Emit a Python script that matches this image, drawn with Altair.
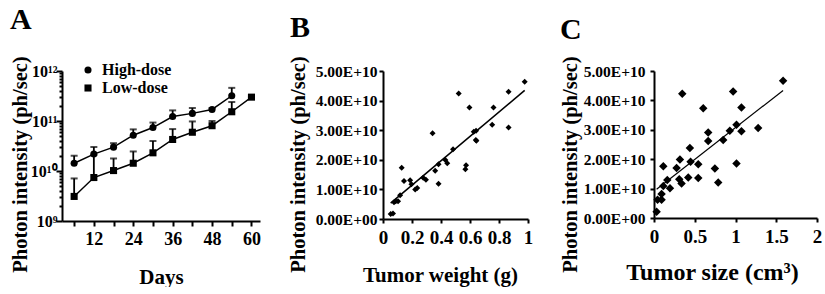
import altair as alt
import pandas as pd

FONT = "Liberation Serif"

# ---------------- Panel A data ----------------
days_high = [6, 12, 18, 24, 30, 36, 42, 48, 54]
high_mean = [1.43e10, 2.18e10, 3.0e10, 5.2e10, 7.4e10, 1.23e11, 1.42e11, 1.70e11, 3.2e11]
high_upper = [2.02e10, 3.02e10, 3.6e10, 6.8e10, 9.3e10, 1.63e11, 1.82e11, 1.82e11, 4.6e11]

days_low = [6, 12, 18, 24, 30, 36, 42, 48, 54, 60]
low_mean = [3.1e9, 7.4e9, 1.02e10, 1.43e10, 2.31e10, 4.27e10, 5.96e10, 8.05e10, 1.53e11, 3.0e11]
low_upper = [7.1e9, 2.1e10, 1.78e10, 2.46e10, 3.98e10, 6.9e10, 9.8e10, 1.0e11, 2.4e11, 3.0e11]

day_ticks = [6, 12, 18, 24, 30, 36, 42, 48, 54, 60]
log_ticks = [m * 10.0 ** e for e in (9, 10, 11) for m in range(1, 10)] + [1e12]

# ---------------- Panel B data ----------------
weight_g = [0.053, 0.069, 0.076, 0.088, 0.104, 0.118, 0.129, 0.145, 0.187, 0.196,
            0.222, 0.236, 0.277, 0.296, 0.342, 0.360, 0.383, 0.383, 0.430, 0.443,
            0.483, 0.522, 0.573, 0.568, 0.596, 0.626, 0.642, 0.640, 0.644, 0.753,
            0.762, 0.866, 0.866, 0.977]
photon_b = [0.17e10, 0.19e10, 0.57e10, 0.60e10, 0.60e10, 0.80e10, 1.73e10, 1.28e10, 1.31e10, 1.17e10,
            1.00e10, 1.05e10, 1.39e10, 1.33e10, 2.90e10, 1.63e10, 1.85e10, 1.19e10, 1.99e10, 1.88e10,
            2.36e10, 4.24e10, 1.82e10, 1.68e10, 3.77e10, 2.95e10, 2.98e10, 2.67e10, 2.64e10, 3.18e10,
            3.77e10, 4.30e10, 3.09e10, 4.64e10]

# ---------------- Panel C data ----------------
size_cm3 = [0.032, 0.044, 0.093, 0.093, 0.114, 0.114, 0.163, 0.196, 0.277, 0.318,
            0.310, 0.338, 0.347, 0.420, 0.440, 0.449, 0.543, 0.543, 0.604, 0.665,
            0.665, 0.747, 0.788, 0.849, 0.930, 0.971, 1.012, 1.012, 1.073, 1.073,
            1.278, 1.584]
photon_c = [0.21e10, 0.62e10, 0.82e10, 0.62e10, 1.09e10, 1.76e10, 1.29e10, 1.01e10, 1.70e10, 1.99e10,
            1.32e10, 1.17e10, 4.23e10, 1.38e10, 2.38e10, 1.91e10, 1.83e10, 1.36e10, 3.73e10, 2.91e10,
            2.62e10, 1.68e10, 1.21e10, 2.65e10, 2.97e10, 4.30e10, 3.17e10, 1.85e10, 3.76e10, 2.95e10,
            3.06e10, 4.67e10]

e_ticks = [0, 1e10, 2e10, 3e10, 4e10, 5e10]
e_label = "datum.value == 0 ? '0.00E+00' : format(datum.value / 1e10, '.2f') + 'E+10'"

YTITLE = "Photon intensity (ph/sec)"
YT_SIZE = 20.5
YT_POS = 93
common = dict(labelFont=FONT, labelFontWeight="bold", labelColor="black",
              titleFont=FONT, titleFontWeight="bold", titleColor="black",
              domainColor="black", domainWidth=2, tickColor="black", tickWidth=2,
              grid=False, labelOverlap=False)

# ---------------- Panel A ----------------
df_a = pd.DataFrame(
    [{"series": "High-dose", "day": d, "val": v, "upper": u}
     for d, v, u in zip(days_high, high_mean, high_upper)] +
    [{"series": "Low-dose", "day": d, "val": v, "upper": u}
     for d, v, u in zip(days_low, low_mean, low_upper)]
)

decade_test = "datum.value == 1e9 || datum.value == 1e10 || datum.value == 1e11 || datum.value == 1e12"
y_label_expr = ("datum.value == 1e9 ? '10\u2079' : datum.value == 1e10 ? '10\u00b9\u2070' : "
                "datum.value == 1e11 ? '10\u00b9\u00b9' : datum.value == 1e12 ? '10\u00b9\u00b2' : ''")

y_scale_a = alt.Scale(type="log", domain=[1e9, 1e12], nice=False)
y_axis_a = alt.Axis(values=log_ticks, labelExpr=y_label_expr,
                    tickSize={"condition": {"test": decade_test, "value": 6}, "value": 3},
                    labelFontSize=16, labelPadding=-1,
                    title=YTITLE, titleFontSize=YT_SIZE, titleBaseline="middle",
                    titleX=-42, titleY=YT_POS, **common)
x_a = alt.X("day:Q", scale=alt.Scale(domain=[2.3, 62.6], nice=False, zero=False),
            axis=alt.Axis(values=day_ticks,
                          labelExpr="datum.value % 12 == 0 ? datum.label : ''",
                          labelFontSize=18, tickSize=5, labelPadding=4, labelFlush=False,
                          title="Days", titleFontSize=21, titlePadding=18, **common))

base_a = alt.Chart(df_a)
lines_a = base_a.mark_line(color="black", strokeWidth=1.5).encode(
    x=x_a, y=alt.Y("val:Q", scale=y_scale_a, axis=y_axis_a), detail="series:N")
rules_a = base_a.mark_rule(color="black", strokeWidth=1.8).encode(
    x=x_a, y=alt.Y("val:Q", scale=y_scale_a, axis=y_axis_a), y2="upper:Q")
caps_a = base_a.mark_tick(color="black", orient="horizontal", size=7, thickness=2).encode(
    x=x_a, y=alt.Y("upper:Q", scale=y_scale_a, axis=y_axis_a))
pts_a = base_a.mark_point(filled=True, color="black", size=50, opacity=1).encode(
    x=x_a, y=alt.Y("val:Q", scale=y_scale_a, axis=y_axis_a),
    shape=alt.Shape("series:N",
                    scale=alt.Scale(domain=["High-dose", "Low-dose"], range=["circle", "square"]),
                    legend=alt.Legend(orient="none", legendX=18, legendY=-9, title=None,
                                      labelFont=FONT, labelFontSize=16, labelFontWeight="bold",
                                      labelColor="black", symbolFillColor="black",
                                      symbolStrokeColor="black", symbolSize=50,
                                      rowPadding=2, labelOffset=6)))

chart_a = alt.layer(lines_a, rules_a, caps_a, pts_a).properties(
    width=198, height=150,
    title=alt.TitleParams("A", anchor="start", frame="group", fontSize=30, font=FONT,
                          fontWeight="bold", color="black", dx=-52, offset=21))

# ---------------- Panel B ----------------
df_b = pd.DataFrame({"w": weight_g, "p": photon_b})
x_b = alt.X("w:Q", scale=alt.Scale(domain=[0, 1], nice=False),
            axis=alt.Axis(values=[0, 0.2, 0.4, 0.6, 0.8, 1], format="~g",
                          labelFontSize=19, tickSize=4, labelPadding=5, labelFlush=False,
                          title="Tumor weight (g)", titleFontSize=21, titlePadding=17,
                          titleX=57, **common))
y_b = alt.Y("p:Q", scale=alt.Scale(domain=[0, 5e10], nice=False),
            axis=alt.Axis(values=e_ticks, labelExpr=e_label, labelFontSize=15.5,
                          tickSize=4, labelPadding=2,
                          title=YTITLE, titleFontSize=YT_SIZE, titleBaseline="middle",
                          titleX=-85, titleY=YT_POS, **common))
base_b = alt.Chart(df_b)
pts_b = base_b.mark_point(shape="diamond", filled=True, color="black", size=36, opacity=1).encode(x=x_b, y=y_b)
fit_b = base_b.transform_regression("w", "p").mark_line(color="black", strokeWidth=1.6).encode(x=x_b, y=y_b)
chart_b = alt.layer(pts_b, fit_b).properties(
    width=145, height=148,
    title=alt.TitleParams("B", anchor="start", frame="group", fontSize=30, font=FONT,
                          fontWeight="bold", color="black", dx=-93, offset=13))

# ---------------- Panel C ----------------
df_c = pd.DataFrame({"s": size_cm3, "p": photon_c})
x_c = alt.X("s:Q", scale=alt.Scale(domain=[0, 2], nice=False),
            axis=alt.Axis(values=[0, 0.5, 1, 1.5, 2], format="~g",
                          labelFontSize=19, tickSize=4, labelPadding=5, labelFlush=False,
                          title="Tumor size (cm\u00b3)", titleFontSize=24, titlePadding=14,
                          titleX=58, **common))
y_c = alt.Y("p:Q", scale=alt.Scale(domain=[0, 5e10], nice=False),
            axis=alt.Axis(values=e_ticks, labelExpr=e_label, labelFontSize=15.5,
                          tickSize=4, labelPadding=5,
                          title=YTITLE, titleFontSize=YT_SIZE, titleBaseline="middle",
                          titleX=-84, titleY=YT_POS, **common))
base_c = alt.Chart(df_c)
pts_c = base_c.mark_point(shape="diamond", filled=True, color="black", size=72, opacity=1).encode(x=x_c, y=y_c)
fit_c = base_c.transform_regression("s", "p").mark_line(color="black", strokeWidth=1.2).encode(x=x_c, y=y_c)
chart_c = alt.layer(pts_c, fit_c).properties(
    width=163, height=147,
    title=alt.TitleParams("C", anchor="start", frame="group", fontSize=30, font=FONT,
                          fontWeight="bold", color="black", dx=-94, offset=11))

chart = alt.hconcat(chart_a, chart_b, chart_c, spacing=26).properties(
    padding={"left": 9, "top": 4, "right": 0, "bottom": 0},
    background="white"
).configure_view(stroke=None)

chart.save("out.html", embed_options={"renderer": "svg", "actions": False})
